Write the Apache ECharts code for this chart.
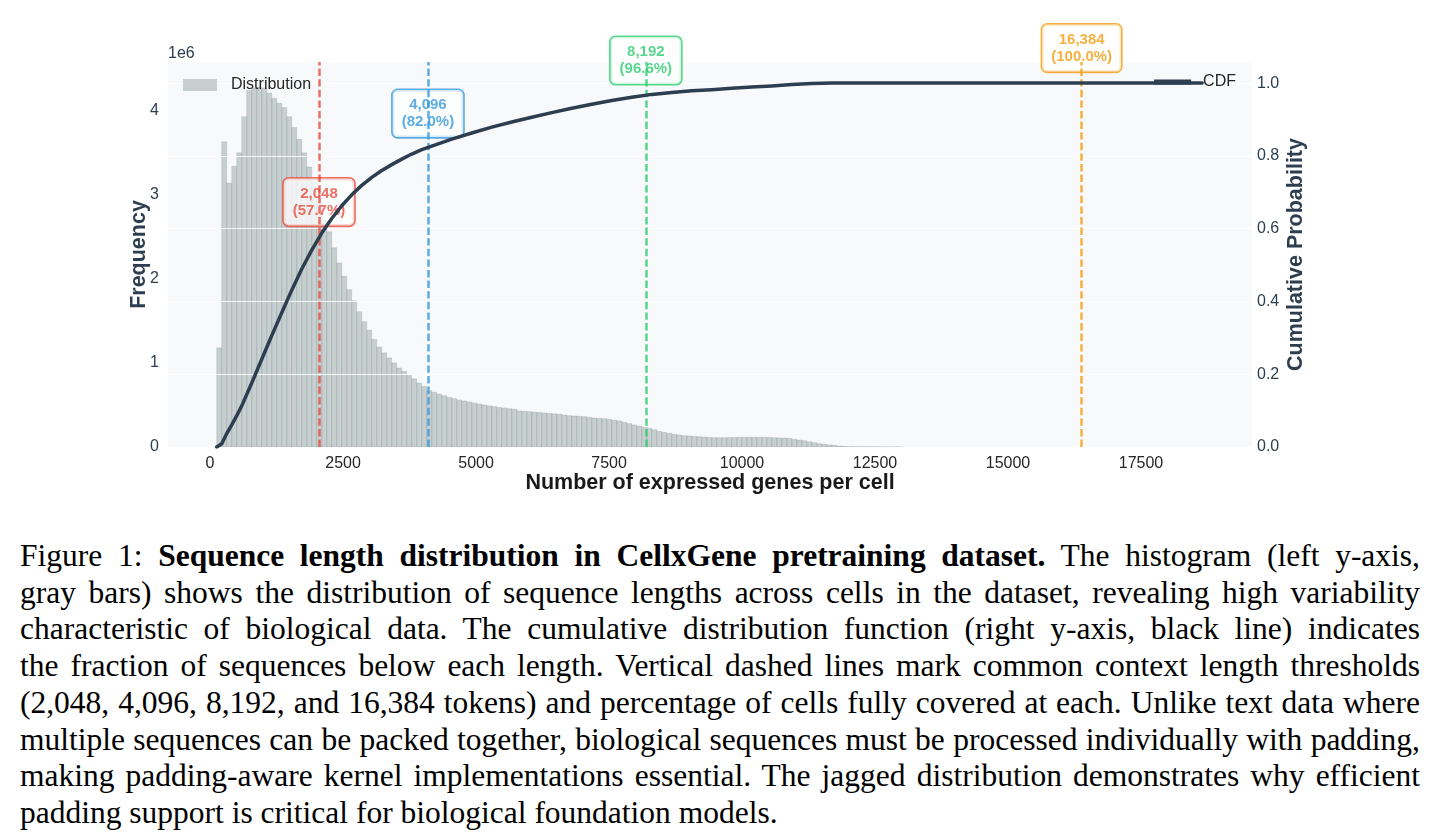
<!DOCTYPE html>
<html>
<head>
<meta charset="utf-8" />
<title>Sequence length distribution in CellxGene pretraining dataset</title>
<script src="https://cdn.jsdelivr.net/npm/echarts@6/dist/echarts.min.js"></script>
<style>
html, body {
  margin: 0;
  padding: 0;
  background: #ffffff;
}
#chart {
  position: absolute;
  left: 0;
  top: 0;
  width: 1435px;
  height: 510px;
}
#caption {
  position: absolute;
  left: 20px;
  top: 538px;
  width: 1400px;
  font-family: "Liberation Serif", "DejaVu Serif", serif;
  font-size: 29px;
  line-height: 36.7px;
  color: #000;
}
#caption div {
  text-align: justify;
  text-align-last: justify;
}
#caption div.last {
  text-align-last: left;
}
</style>
</head>
<body>
<div id="chart"></div>
<div id="caption">
  <div>Figure 1: <b>Sequence length distribution in CellxGene pretraining dataset.</b> The histogram (left y-axis,</div>
  <div>gray bars) shows the distribution of sequence lengths across cells in the dataset, revealing high variability</div>
  <div>characteristic of biological data. The cumulative distribution function (right y-axis, black line) indicates</div>
  <div>the fraction of sequences below each length. Vertical dashed lines mark common context length thresholds</div>
  <div>(2,048, 4,096, 8,192, and 16,384 tokens) and percentage of cells fully covered at each. Unlike text data where</div>
  <div>multiple sequences can be packed together, biological sequences must be processed individually with padding,</div>
  <div>making padding-aware kernel implementations essential. The jagged distribution demonstrates why efficient</div>
  <div class="last">padding support is critical for biological foundation models.</div>
</div>
<script>
// histogram bins (genes per cell)
var binStart = 126;
var binWidth = 94;
// cells per bin, in millions (left axis is x1e6)
var binCounts = [
  1.18, 3.63, 3.14, 3.34, 3.50, 3.93, 4.24, 4.27, 4.28, 4.27,
  4.21, 4.15, 4.09, 4.04, 3.93, 3.80, 3.66, 3.50, 3.33, 3.15,
  2.92, 2.70, 2.56, 2.37, 2.19, 2.03, 1.87, 1.74, 1.61, 1.49,
  1.39, 1.28, 1.19, 1.12, 1.06, 1.00, 0.94, 0.90, 0.85, 0.81,
  0.76, 0.72, 0.67, 0.65, 0.63, 0.61, 0.59, 0.575, 0.56, 0.548,
  0.536, 0.524, 0.512, 0.50, 0.49, 0.48, 0.47, 0.464, 0.456, 0.45,
  0.43, 0.425, 0.42, 0.415, 0.41, 0.405, 0.40, 0.395, 0.39, 0.381,
  0.373, 0.369, 0.365, 0.361, 0.353, 0.345, 0.341, 0.337, 0.329, 0.321,
  0.31, 0.294, 0.278, 0.262, 0.25, 0.234, 0.222, 0.206, 0.187, 0.175,
  0.163, 0.151, 0.143, 0.135, 0.131, 0.127, 0.123, 0.119, 0.115, 0.111,
  0.11, 0.11, 0.112, 0.113, 0.115, 0.116, 0.117, 0.117, 0.116, 0.115,
  0.113, 0.11, 0.108, 0.106, 0.103, 0.091, 0.083, 0.075, 0.063, 0.052,
  0.04, 0.032, 0.024, 0.02, 0.012, 0.008, 0.005, 0.004, 0.003, 0.003,
  0.002, 0.002, 0.002, 0.001, 0.001, 0.001, 0.001
];

// CDF curve
var cdfLength = [
  126, 220, 314, 408, 502, 596, 784, 972, 1160, 1348,
  1536, 1724, 1912, 2100, 2288, 2476, 2664, 2852, 3040, 3228,
  3416, 3604, 3792, 3980, 4168, 4544, 4920, 5296, 5672, 6048,
  6424, 6800, 7176, 7552, 7928, 8304, 8680, 9056, 9432, 9808,
  10184, 10560, 10936, 11312, 11688, 12500, 15000, 18650
];
var cdfValue = [
  0, 0.009, 0.037, 0.061, 0.086, 0.113, 0.176, 0.241, 0.306, 0.369,
  0.431, 0.489, 0.541, 0.588, 0.628, 0.663, 0.693, 0.719, 0.741, 0.760,
  0.776, 0.791, 0.805, 0.817, 0.827, 0.846, 0.863, 0.879, 0.893, 0.906,
  0.919, 0.931, 0.942, 0.952, 0.961, 0.969, 0.974, 0.979, 0.982, 0.986,
  0.989, 0.992, 0.996, 0.999, 1.0, 1.0, 1.0, 1.0
];

// context length thresholds
var thresholds = [2048, 4096, 8192, 16384];
var coverage = [57.7, 82.0, 96.6, 100.0];
var thresholdColors = ['#e74c3c', '#3498db', '#2ecc71', '#f39c12'];

var xTicks = [0, 2500, 5000, 7500, 10000, 12500, 15000, 17500];
var leftTicks = [0, 1, 2, 3, 4];
var rightTicks = [0, 0.2, 0.4, 0.6, 0.8, 1.0];

var barFill = 'rgba(149,165,166,0.5)';
var slate = '#2c3e50';
var font = '"Liberation Sans", Arial, sans-serif';

var histData = [];
for (var i = 0; i < binCounts.length; i++) {
  histData.push([binStart + i * binWidth, binStart + (i + 1) * binWidth, binCounts[i]]);
}
var cdfData = [];
for (var j = 0; j < cdfLength.length; j++) {
  cdfData.push([cdfLength[j], cdfValue[j]]);
}

var chart = echarts.init(document.getElementById('chart'));
var option = {
  animation: false,
  textStyle: { fontFamily: font },
  title: {
    text: '1e6',
    left: 168,
    top: 46,
    padding: 0,
    textStyle: { fontSize: 16, fontWeight: 'normal', color: slate, fontFamily: font }
  },
  grid: {
    left: 168,
    top: 62,
    width: 1084,
    height: 385,
    show: true,
    backgroundColor: '#f8f9fa',
    borderWidth: 0,
    outerBoundsMode: 'none'
  },
  legend: [
    {
      data: [{ name: 'Distribution', icon: 'rect', itemStyle: { color: barFill, borderWidth: 0 } }],
      left: 183,
      top: 77,
      padding: 0,
      itemWidth: 34,
      itemHeight: 12,
      selectedMode: false,
      textStyle: { fontSize: 16, color: '#262626', padding: [0, 0, 0, 9] }
    },
    {
      data: [{ name: 'CDF', icon: 'rect', itemStyle: { color: slate, borderWidth: 0 } }],
      right: 199,
      top: 74,
      padding: 0,
      itemWidth: 37,
      itemHeight: 5,
      selectedMode: false,
      textStyle: { fontSize: 16, color: '#262626', padding: [0, 0, 0, 7] }
    }
  ],
  xAxis: {
    type: 'value',
    min: -790,
    max: 19586,
    axisLine: { show: false },
    axisTick: { show: false },
    splitLine: { show: false },
    axisLabel: {
      customValues: xTicks,
      fontSize: 16,
      color: '#262626',
      margin: 9,
      formatter: function (v) { return String(v); }
    },
    name: 'Number of expressed genes per cell',
    nameLocation: 'middle',
    nameGap: 25,
    nameMoveOverlap: false,
    nameTextStyle: { fontSize: 21.5, fontWeight: 'bold', color: '#1a1a1a' }
  },
  yAxis: [
    {
      type: 'value',
      position: 'left',
      min: 0,
      max: 4.58,
      interval: 1,
      axisLine: { show: false },
      axisTick: { show: false },
      splitLine: { show: false },
      axisLabel: {
        customValues: leftTicks,
        fontSize: 16,
        color: slate,
        margin: 9,
        formatter: function (v) { return String(v); }
      },
      name: 'Frequency',
      nameLocation: 'middle',
      nameRotate: 90,
      nameGap: 18,
      nameMoveOverlap: false,
      nameTextStyle: { fontSize: 21.5, fontWeight: 'bold', color: slate }
    },
    {
      type: 'value',
      position: 'right',
      min: 0,
      max: 1.058,
      interval: 0.2,
      z: 2,
      axisLine: { show: false },
      axisTick: { show: false },
      splitLine: { show: true, lineStyle: { color: 'rgba(255,255,255,0.85)', width: 1 } },
      axisLabel: {
        customValues: rightTicks,
        fontSize: 16,
        color: slate,
        margin: 5,
        formatter: function (v) { return v.toFixed(1); }
      },
      name: 'Cumulative Probability',
      nameLocation: 'middle',
      nameRotate: 90,
      nameGap: 33,
      nameMoveOverlap: false,
      nameTextStyle: { fontSize: 21.5, fontWeight: 'bold', color: slate }
    }
  ],
  series: [
    {
      name: 'Distribution',
      type: 'custom',
      xAxisIndex: 0,
      yAxisIndex: 0,
      z: 1,
      silent: true,
      itemStyle: { color: barFill },
      encode: { x: [0, 1], y: 2 },
      data: histData,
      renderItem: function (params, api) {
        var p0 = api.coord([api.value(0), 0]);
        var p1 = api.coord([api.value(1), api.value(2)]);
        return {
          type: 'rect',
          shape: { x: p0[0], y: p1[1], width: p1[0] - p0[0], height: p0[1] - p1[1] },
          style: { fill: barFill, stroke: 'rgba(120,135,140,0.35)', lineWidth: 0.6 }
        };
      }
    },
    {
      name: 'thresholds',
      type: 'scatter',
      yAxisIndex: 1,
      z: 3,
      silent: true,
      symbolSize: 1,
      itemStyle: { color: 'rgba(0,0,0,0)' },
      data: thresholds.map(function (t, i) {
        return {
          value: [t, coverage[i] / 100],
          label: { color: thresholdColors[i], borderColor: thresholdColors[i] }
        };
      }),
      label: {
        show: true,
        position: 'inside',
        offset: [0, -35],
        fontSize: 15,
        fontWeight: 'bold',
        fontFamily: font,
        lineHeight: 17,
        align: 'center',
        backgroundColor: 'rgba(255,255,255,0.92)',
        borderWidth: 1.6,
        borderRadius: 5,
        padding: [7, 9, 6, 9],
        formatter: function (p) {
          var i = p.dataIndex;
          return thresholds[i].toLocaleString('en-US') + '\n(' + coverage[i].toFixed(1) + '%)';
        }
      },
      markLine: {
        silent: true,
        z: 4,
        symbol: ['none', 'none'],
        label: { show: false },
        data: thresholds.map(function (t, i) {
          return {
            xAxis: t,
            lineStyle: { color: thresholdColors[i], type: [7.4, 3.2], width: 2.5, opacity: 0.8 }
          };
        })
      }
    },
    {
      name: 'CDF',
      type: 'line',
      yAxisIndex: 1,
      z: 6,
      silent: true,
      showSymbol: false,
      smooth: false,
      lineStyle: { color: slate, width: 3.5, join: 'round', cap: 'round' },
      itemStyle: { color: slate },
      data: cdfData
    }
  ]
};
chart.setOption(option);

// fit the caption lines to the text width
var cap = document.getElementById('caption');
var rows = cap.querySelectorAll('div');
var probe = document.createElement('span');
probe.style.whiteSpace = 'nowrap';
probe.style.position = 'absolute';
probe.style.visibility = 'hidden';
cap.appendChild(probe);
var widest = 0;
for (var r = 0; r < rows.length; r++) {
  probe.innerHTML = rows[r].innerHTML;
  widest = Math.max(widest, probe.getBoundingClientRect().width);
}
cap.removeChild(probe);
cap.style.fontSize = Math.min(32, 29 * 1394 / widest) + 'px';
</script>
</body>
</html>
